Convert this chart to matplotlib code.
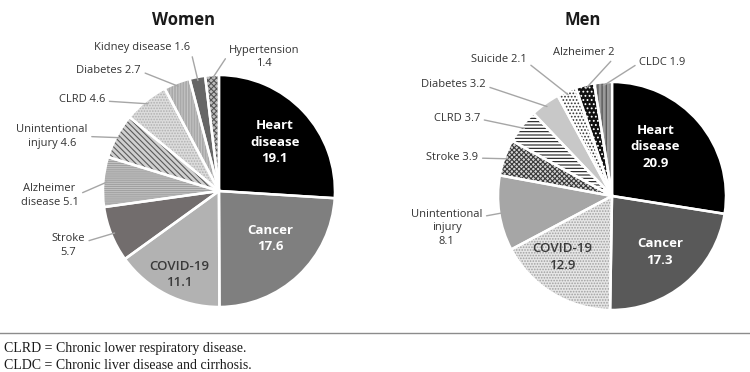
import numpy as np
import matplotlib.pyplot as plt
from matplotlib.lines import Line2D

plt.rcParams['font.family'] = ['Open Sans', 'DejaVu Sans']
plt.rcParams['hatch.linewidth'] = 0.8

# data (deaths, % share as printed on the chart)
women_labels = ["Heart\ndisease\n19.1", "Cancer\n17.6", "COVID-19\n11.1", "Stroke\n5.7",
                "Alzheimer\ndisease 5.1", "Unintentional\ninjury 4.6", "CLRD 4.6",
                "Diabetes 2.7", "Kidney disease 1.6", "Hypertension\n1.4"]
women_vals = [19.1, 17.6, 11.1, 5.7, 5.1, 4.6, 4.6, 2.7, 1.6, 1.4]

men_labels = ["Heart\ndisease\n20.9", "Cancer\n17.3", "COVID-19\n12.9", "Unintentional\ninjury\n8.1",
              "Stroke 3.9", "CLRD 3.7", "Diabetes 3.2", "Suicide 2.1", "Alzheimer 2", "CLDC 1.9"]
men_vals = [20.9, 17.3, 12.9, 8.1, 3.9, 3.7, 3.2, 2.1, 2.0, 1.9]

footnotes = ["CLRD = Chronic lower respiratory disease.",
             "CLDC = Chronic liver disease and cirrhosis."]

# styles: (face, hatch, hatch colour)
women_style = [("#000000", None, "#000000"), ("#7f7f7f", None, "#7f7f7f"),
               ("#b2b2b2", None, "#b2b2b2"), ("#726d6d", None, "#726d6d"),
               ("#c4c4c4", "--------", "#a0a0a0"), ("#d0d0d0", "\\\\\\\\\\\\", "#5a5a5a"),
               ("#dcdcdc", "......", "#b0b0b0"), ("#a9a9a9", "||||||", "#c4c4c4"),
               ("#666666", None, "#666666"), ("#bdbdbd", "xxxxxx", "#555555")]
men_style = [("#000000", None, "#000000"), ("#595959", None, "#595959"),
             ("#e6e6e6", "......", "#a0a0a0"), ("#a6a6a6", None, "#a6a6a6"),
             ("#d4d4d4", "xxxxxxx", "#3a3a3a"), ("#ffffff", "-----", "#1a1a1a"),
             ("#c8c8c8", None, "#c8c8c8"), ("#ffffff", ".....", "#333333"),
             ("#111111", "....", "#ffffff"), ("#9a9a9a", "||||", "#4a4a4a")]

# label layout: (x, y, relpos) in pie units; None = inside label
women_pos = [(0.48, 0.42, None), (0.44, -0.41, None), (-0.34, -0.72, None),
             (-1.30, -0.47, (1, 0.65)), (-1.46, -0.04, (1, 0.55)), (-1.44, 0.47, (1, 0.5)),
             (-1.18, 0.785, (1, 0.4)), (-0.95, 1.04, (1, 0.4)), (-0.66, 1.24, (1, 0.3)),
             (0.39, 1.155, (0, 0.65))]
men_pos = [(0.38, 0.43, None), (0.42, -0.49, None), (-0.44, -0.535, None),
           (-1.45, -0.28, (1, 0.8)), (-1.40, 0.342, (1, 0.4)), (-1.36, 0.684, (1, 0.4)),
           (-1.39, 0.974, (1, 0.4)), (-0.99, 1.193, (1, 0.3)), (-0.25, 1.263, (1, 0.0)),
           (0.44, 1.167, (0, 0.5))]

fig = plt.figure(figsize=(7.5, 3.72), dpi=100)


def draw_pie(rect, vals, labels, styles, pos, inside_col):
    ax = fig.add_axes(rect)
    faces = [s[0] for s in styles]
    wedges, _ = ax.pie(vals, colors=faces, startangle=90, counterclock=False,
                       wedgeprops=dict(linewidth=0))
    for w, s in zip(wedges, styles):
        w.set_edgecolor(s[2])
        if s[1]:
            w.set_hatch(s[1])
    # white separators on top
    ax.pie(vals, colors=['none'] * len(vals), startangle=90, counterclock=False,
           wedgeprops=dict(linewidth=1.8, edgecolor='white', facecolor='none'))
    for w, lab, p, ic in zip(wedges, labels, pos, inside_col):
        if p[2] is None:
            col, wt = ic
            ax.text(p[0], p[1], lab, ha='center', va='center', color=col,
                    fontsize=9.5, fontweight=wt, linespacing=1.35)
        else:
            ang = np.deg2rad((w.theta1 + w.theta2) / 2)
            ax.annotate(lab, xy=(0.97 * np.cos(ang), 0.97 * np.sin(ang)),
                        xytext=(p[0], p[1]), ha='center', va='center',
                        fontsize=8, color='#333333', linespacing=1.3,
                        annotation_clip=False,
                        arrowprops=dict(arrowstyle='-', color='#a6a6a6', lw=1,
                                        relpos=p[2], shrinkA=1, shrinkB=0))
    ax.set_xlim(-1, 1)
    ax.set_ylim(-1, 1)
    ax.set_aspect('equal')
    ax.axis('off')
    return ax


inside_w = [("white", "bold"), ("white", "bold"), ("#3a3a3a", "semibold")]
draw_pie([0.1373, 0.1747, 0.3093, 0.6237], women_vals, women_labels, women_style,
         women_pos, inside_w + [None] * 7)
draw_pie([0.664, 0.1667, 0.304, 0.6129], men_vals, men_labels, men_style,
         men_pos, inside_w + [None] * 7)

fig.text(0.244, 0.946, "Women", ha='center', va='center', fontsize=12,
         fontweight='bold', color='#1a1a1a')
fig.text(0.777, 0.946, "Men", ha='center', va='center', fontsize=12,
         fontweight='bold', color='#1a1a1a')

fig.add_artist(Line2D([0, 1], [0.105, 0.105], transform=fig.transFigure,
                      color='#8c8c8c', lw=1))
for i, t in enumerate(footnotes):
    fig.text(0.006, 0.064 - i * 0.046, t, ha='left', va='center', fontsize=10,
             family='Liberation Serif', color='#1a1a1a')

fig.savefig("out.png", dpi=100)
